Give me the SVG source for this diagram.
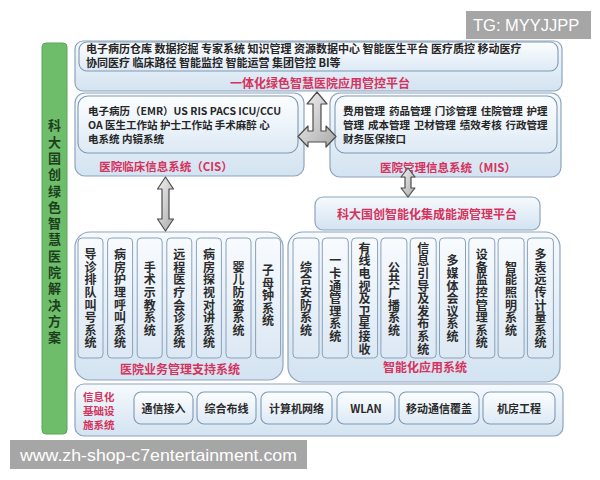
<svg xmlns="http://www.w3.org/2000/svg" width="600" height="480" viewBox="0 0 600 480">
<style>
.cjk{font-family:"Noto Sans CJK SC","Noto Sans",sans-serif;font-weight:700}
.body{font-size:11px;fill:#262626}
.small{font-size:10.5px;fill:#262626}
.red{font-size:12px;fill:#d6325c;text-anchor:middle}
.vt{font-size:12px;fill:#2b2b2b;writing-mode:vertical-rl;text-anchor:middle;letter-spacing:0.6px}
.btn{font-size:11px;fill:#2b2b2b;text-anchor:middle}
.outer{fill:url(#gOuter);stroke:#8ea4bc;stroke-width:1.2}
.inner{fill:url(#gInner);stroke:#7f99b4;stroke-width:1.1}
.col{fill:url(#gCol);stroke:#8aa1ba;stroke-width:1}
.arrow{fill:url(#gArrow);stroke:#4d4d4d;stroke-width:1.2;stroke-linejoin:round}
.wm{fill:#a6a6a6}
.wmt{font-family:"Liberation Sans",Arial,sans-serif;fill:#ffffff}
</style>
<defs>
<linearGradient id="gOuter" x1="0" y1="0" x2="0" y2="1">
<stop offset="0" stop-color="#f6fafd"/><stop offset="1" stop-color="#d3e3f1"/>
</linearGradient>
<linearGradient id="gInner" x1="0" y1="0" x2="0" y2="1">
<stop offset="0" stop-color="#fcfeff"/><stop offset="1" stop-color="#dde9f5"/>
</linearGradient>
<linearGradient id="gCol" x1="0" y1="0" x2="0" y2="1">
<stop offset="0" stop-color="#f8fbfe"/><stop offset="1" stop-color="#dce8f4"/>
</linearGradient>
<linearGradient id="gArrow" x1="0" y1="0" x2="1" y2="1">
<stop offset="0" stop-color="#f4f4f4"/><stop offset="1" stop-color="#a9a9a9"/>
</linearGradient>
</defs>
<rect width="600" height="480" fill="#ffffff"/>

<g id="green-bar">
<rect x="42" y="43" width="25" height="391" rx="4" fill="#6dbd6b" stroke="#5aa65a"/>
<text x="54.5" y="233" class="cjk" style="font-size:13px;fill:#1e3f1e;writing-mode:vertical-rl;text-anchor:middle;letter-spacing:3.3px">科大国创绿色智慧医院解决方案</text>
</g>

<g id="top-platform">
<rect x="75" y="41" width="487" height="50" rx="8" class="outer"/>
<rect x="79" y="42" width="479" height="29" rx="8" class="inner"/>
<text x="86" y="52.5" class="cjk body">电子病历仓库 数据挖掘 专家系统 知识管理 资源数据中心 智能医生平台 医疗质控 移动医疗</text>
<text x="86" y="67" class="cjk body">协同医疗 临床路径 智能监控 智能运营 集团管控 BI等</text>
<text x="320" y="87.5" class="cjk red">一体化绿色智慧医院应用管控平台</text>
</g>

<g id="cis">
<rect x="75" y="93" width="229" height="83" rx="10" class="outer"/>
<rect x="78" y="96" width="220" height="57" rx="10" class="inner"/>
<text x="88" y="115" class="cjk small">电子病历（EMR）US RIS PACS ICU/CCU</text>
<text x="88" y="129" class="cjk small">OA 医生工作站 护士工作站 手术麻醉 心</text>
<text x="88" y="143" class="cjk small">电系统 内镜系统</text>
<text x="166" y="171" class="cjk red" style="font-size:11.5px">医院临床信息系统（CIS）</text>
</g>

<g id="mis">
<rect x="330" y="93" width="231" height="84" rx="10" class="outer"/>
<rect x="335" y="96" width="222" height="57" rx="10" class="inner"/>
<text x="343" y="115" class="cjk small" style="word-spacing:1.5px">费用管理 药品管理 门诊管理 住院管理 护理</text>
<text x="343" y="129" class="cjk small" style="word-spacing:1.5px">管理 成本管理 卫材管理 绩效考核 行政管理</text>
<text x="343" y="143" class="cjk small">财务医保接口</text>
<text x="448" y="172" class="cjk red" style="font-size:11.5px">医院管理信息系统（MIS）</text>
</g>

<g id="energy-platform">
<rect x="315" y="197" width="225" height="33" rx="8" class="outer"/>
<text x="427" y="219" class="cjk red">科大国创智能化集成能源管理平台</text>
</g>

<g id="biz-support">
<rect x="75" y="232" width="208" height="148" rx="15" class="outer"/>
<g id="biz-col-1"><rect x="78" y="238" width="25" height="120" rx="4" class="col"/><text x="90.5" y="299" class="cjk vt">导诊排队叫号系统</text></g>
<g id="biz-col-2"><rect x="107.6" y="238" width="25" height="120" rx="4" class="col"/><text x="120.1" y="299" class="cjk vt">病房护理呼叫系统</text></g>
<g id="biz-col-3"><rect x="137.2" y="238" width="25" height="120" rx="4" class="col"/><text x="149.7" y="299" class="cjk vt">手术示教系统</text></g>
<g id="biz-col-4"><rect x="166.8" y="238" width="25" height="120" rx="4" class="col"/><text x="179.3" y="299" class="cjk vt">远程医疗会诊系统</text></g>
<g id="biz-col-5"><rect x="196.4" y="238" width="25" height="120" rx="4" class="col"/><text x="208.9" y="299" class="cjk vt">病房探视对讲系统</text></g>
<g id="biz-col-6"><rect x="226" y="238" width="25" height="120" rx="4" class="col"/><text x="238.5" y="299" class="cjk vt">婴儿防盗系统</text></g>
<g id="biz-col-7"><rect x="255.6" y="238" width="25" height="120" rx="4" class="col"/><text x="268.1" y="296" class="cjk vt">子母钟系统</text></g>
<text x="180" y="374" class="cjk red">医院业务管理支持系统</text>
</g>

<g id="smart-app">
<rect x="288" y="232" width="272" height="150" rx="15" class="outer"/>
<g id="smart-col-1"><rect x="293" y="238" width="26" height="120" rx="4" class="col"/><text x="306" y="299" class="cjk vt">综合安防系统</text></g>
<g id="smart-col-2"><rect x="322.3" y="238" width="26" height="120" rx="4" class="col"/><text x="335.3" y="299" class="cjk vt">一卡通管理系统</text></g>
<g id="smart-col-3"><rect x="351.6" y="238" width="26" height="120" rx="4" class="col"/><text x="364.6" y="299" class="cjk vt">有线电视及卫星接收</text></g>
<g id="smart-col-4"><rect x="380.9" y="238" width="26" height="120" rx="4" class="col"/><text x="393.9" y="299" class="cjk vt">公共广播系统</text></g>
<g id="smart-col-5"><rect x="410.2" y="238" width="26" height="120" rx="4" class="col"/><text x="423.2" y="299" class="cjk vt">信息引导及发布系统</text></g>
<g id="smart-col-6"><rect x="439.5" y="238" width="26" height="120" rx="4" class="col"/><text x="452.5" y="299" class="cjk vt">多媒体会议系统</text></g>
<g id="smart-col-7"><rect x="468.8" y="238" width="26" height="120" rx="4" class="col"/><text x="481.8" y="299" class="cjk vt">设备监控管理系统</text></g>
<g id="smart-col-8"><rect x="498.1" y="238" width="26" height="120" rx="4" class="col"/><text x="511.1" y="299" class="cjk vt">智能照明系统</text></g>
<g id="smart-col-9"><rect x="527.4" y="238" width="26" height="120" rx="4" class="col"/><text x="540.4" y="299" class="cjk vt">多表远传计量系统</text></g>
<text x="425" y="372" class="cjk red">智能化应用系统</text>
</g>

<g id="infra">
<rect x="75" y="384" width="488" height="52" rx="9" class="outer"/>
<text x="83" y="400.5" class="cjk red" style="text-anchor:start;font-size:10.5px">信息化</text>
<text x="83" y="414.5" class="cjk red" style="text-anchor:start;font-size:10.5px">基础设</text>
<text x="83" y="428.5" class="cjk red" style="text-anchor:start;font-size:10.5px">施系统</text>
<g id="btn-1"><rect x="134" y="392" width="59" height="32" rx="7" class="inner"/><text x="163.5" y="412.5" class="cjk btn">通信接入</text></g>
<g id="btn-2"><rect x="197" y="392" width="59" height="32" rx="7" class="inner"/><text x="226.5" y="412.5" class="cjk btn">综合布线</text></g>
<g id="btn-3"><rect x="261" y="392" width="71" height="32" rx="7" class="inner"/><text x="296.5" y="412.5" class="cjk btn">计算机网络</text></g>
<g id="btn-4"><rect x="337" y="392" width="58" height="32" rx="7" class="inner"/><text x="366" y="412.5" class="cjk btn">WLAN</text></g>
<g id="btn-5"><rect x="399" y="392" width="80" height="32" rx="7" class="inner"/><text x="439" y="412.5" class="cjk btn">移动通信覆盖</text></g>
<g id="btn-6"><rect x="483" y="392" width="72" height="32" rx="7" class="inner"/><text x="519" y="412.5" class="cjk btn">机房工程</text></g>
</g>

<g id="connectors">
<path class="arrow" d="M317,92 L327,104 L321,104 L321,131 L326,131 L326,126 L336,136.5 L326,147 L326,142 L308,142 L308,147 L298,136.5 L308,126 L308,131 L313,131 L313,104 L307,104 Z"/>
<path class="arrow" d="M165.5,177 L173.5,189 L169,189 L169,219 L173.5,219 L165.5,231 L157.5,219 L162,219 L162,189 L157.5,189 Z"/>
<path class="arrow" d="M408,168 L415,177 L411,177 L411,188 L415,188 L408,197 L401,188 L405,188 L405,177 L401,177 Z"/>
</g>

<g id="watermarks">
<rect x="466" y="11" width="125" height="28" class="wm"/>
<text x="473" y="31" class="wmt" style="font-size:16.5px">TG: MYYJJPP</text>
<rect x="10" y="440" width="297" height="29" class="wm"/>
<text x="20" y="460.5" class="wmt" style="font-size:17px" textLength="277" lengthAdjust="spacingAndGlyphs">www.zh-shop-c7entertainment.com</text>
</g>
</svg>
